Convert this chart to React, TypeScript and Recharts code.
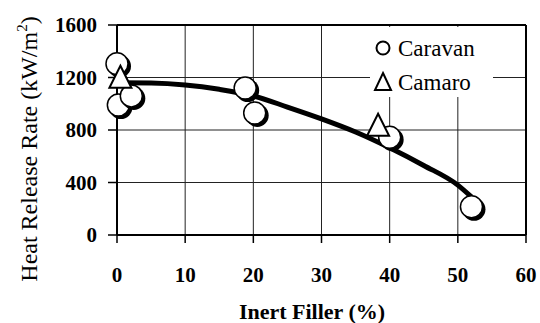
import {
  CartesianGrid,
  ComposedChart,
  Legend,
  Line,
  ReferenceLine,
  Scatter,
  XAxis,
  YAxis,
} from 'recharts';

const SERIF = 'Liberation Serif, Tinos, DejaVu Serif, Times New Roman, serif';

const X_TICKS = [0, 10, 20, 30, 40, 50, 60];
const Y_TICKS = [0, 400, 800, 1200, 1600];

// Caravan (circles)
const CARAVAN_X = [0, 0.2, 2.1, 18.8, 20.2, 40, 52];
const CARAVAN_Y = [1305, 990, 1060, 1120, 930, 745, 215];

// Camaro (triangles)
const CAMARO_X = [0.5, 38.3];
const CAMARO_Y = [1190, 825];

// fitted curve
const FIT_X = [0.5, 5, 10, 15, 20, 25, 30, 35, 40, 45, 50, 52];
const FIT_Y = [1160, 1158, 1143, 1110, 1060, 975, 885, 785, 665, 530, 380, 290];

const zip = (xs: number[], ys: number[]) => xs.map((x, i) => ({ x, y: ys[i] }));

const caravan = zip(CARAVAN_X, CARAVAN_Y);
const camaro = zip(CAMARO_X, CAMARO_Y);
const fit = zip(FIT_X, FIT_Y);

function CircleMark(props: any) {
  const { cx, cy } = props;
  return (
    <g>
      <circle cx={cx + 2.5} cy={cy + 2.5} r={11.5} fill="#000" />
      <circle cx={cx} cy={cy} r={11} fill="#fff" stroke="#000" strokeWidth={1.5} />
    </g>
  );
}

function TriangleMark(props: any) {
  const { cx, cy } = props;
  return (
    <path
      d={`M${cx},${cy - 13} L${cx + 11},${cy + 9} L${cx - 11},${cy + 9} Z`}
      fill="#fff"
      stroke="#000"
      strokeWidth={2}
      strokeLinejoin="miter"
    />
  );
}

function LegendBox() {
  const row = { display: 'flex', alignItems: 'center', height: 34 } as const;
  return (
    <div
      style={{
        background: '#fff',
        width: 123,
        height: 70,
        paddingTop: 4,
        boxSizing: 'border-box',
        fontFamily: SERIF,
        fontSize: 23,
        color: '#000',
        lineHeight: 1,
      }}
    >
      <div style={row}>
        <svg width={28} height={24}>
          <circle cx={13} cy={12} r={6.5} fill="#fff" stroke="#000" strokeWidth={2} />
        </svg>
        <span>Caravan</span>
      </div>
      <div style={row}>
        <svg width={28} height={24}>
          <path d="M13,3 L21,20 L5,20 Z" fill="#fff" stroke="#000" strokeWidth={2} />
        </svg>
        <span>Camaro</span>
      </div>
    </div>
  );
}

const YTitle = () => (
  <text
    x={37}
    y={149}
    transform="rotate(-90 37 149)"
    textAnchor="middle"
    style={{ fontFamily: SERIF }}
    fontSize={24}
    fill="#000"
  >
    Heat Release Rate (kW/m
    <tspan dy={-10} fontSize={15}>
      2
    </tspan>
    <tspan dy={10}>)</tspan>
  </text>
);

const XTitle = () => (
  <text
    x={312}
    y={319}
    textAnchor="middle"
    style={{ fontFamily: SERIF }}
    fontSize={22}
    fontWeight="bold"
    fill="#000"
  >
    Inert Filler (%)
  </text>
);

const tickStyle = { fill: '#000', fontSize: 21, fontWeight: 'bold', fontFamily: SERIF };

export default function App() {
  return (
    <div
      style={{
        position: 'fixed',
        left: 0,
        top: 0,
        width: 540,
        height: 323,
        background: '#fff',
        fontFamily: SERIF,
      }}
    >
      <ComposedChart width={540} height={323} margin={{ top: 25, right: 14, left: 0, bottom: 0 }}>
        <CartesianGrid stroke="#222" strokeWidth={1} />
        <XAxis
          dataKey="x"
          type="number"
          domain={[0, 60]}
          ticks={X_TICKS}
          height={88}
          tick={tickStyle}
          tickSize={8}
          tickMargin={24}
          axisLine={{ stroke: '#000', strokeWidth: 2 }}
          tickLine={{ stroke: '#000', strokeWidth: 1.5 }}
          label={<XTitle />}
        />
        <YAxis
          dataKey="y"
          type="number"
          domain={[0, 1600]}
          ticks={Y_TICKS}
          width={117}
          tick={tickStyle}
          tickSize={9}
          tickMargin={11}
          axisLine={{ stroke: '#000', strokeWidth: 2 }}
          tickLine={{ stroke: '#000', strokeWidth: 1.5 }}
          label={<YTitle />}
        />
        <ReferenceLine y={1600} stroke="#000" strokeWidth={2} />
        <ReferenceLine x={60} stroke="#000" strokeWidth={2} />
        <Legend
          layout="vertical"
          align="center"
          verticalAlign="middle"
          content={<LegendBox />}
          wrapperStyle={{ left: 370, top: 27, width: 123, height: 70 }}
        />
        <Line
          data={fit}
          dataKey="y"
          type="monotone"
          stroke="#000"
          strokeWidth={5}
          dot={false}
          activeDot={false}
          isAnimationActive={false}
        />
        <Scatter data={caravan} dataKey="y" shape={<CircleMark />} isAnimationActive={false} />
        <Scatter data={camaro} dataKey="y" shape={<TriangleMark />} isAnimationActive={false} />
      </ComposedChart>
    </div>
  );
}
